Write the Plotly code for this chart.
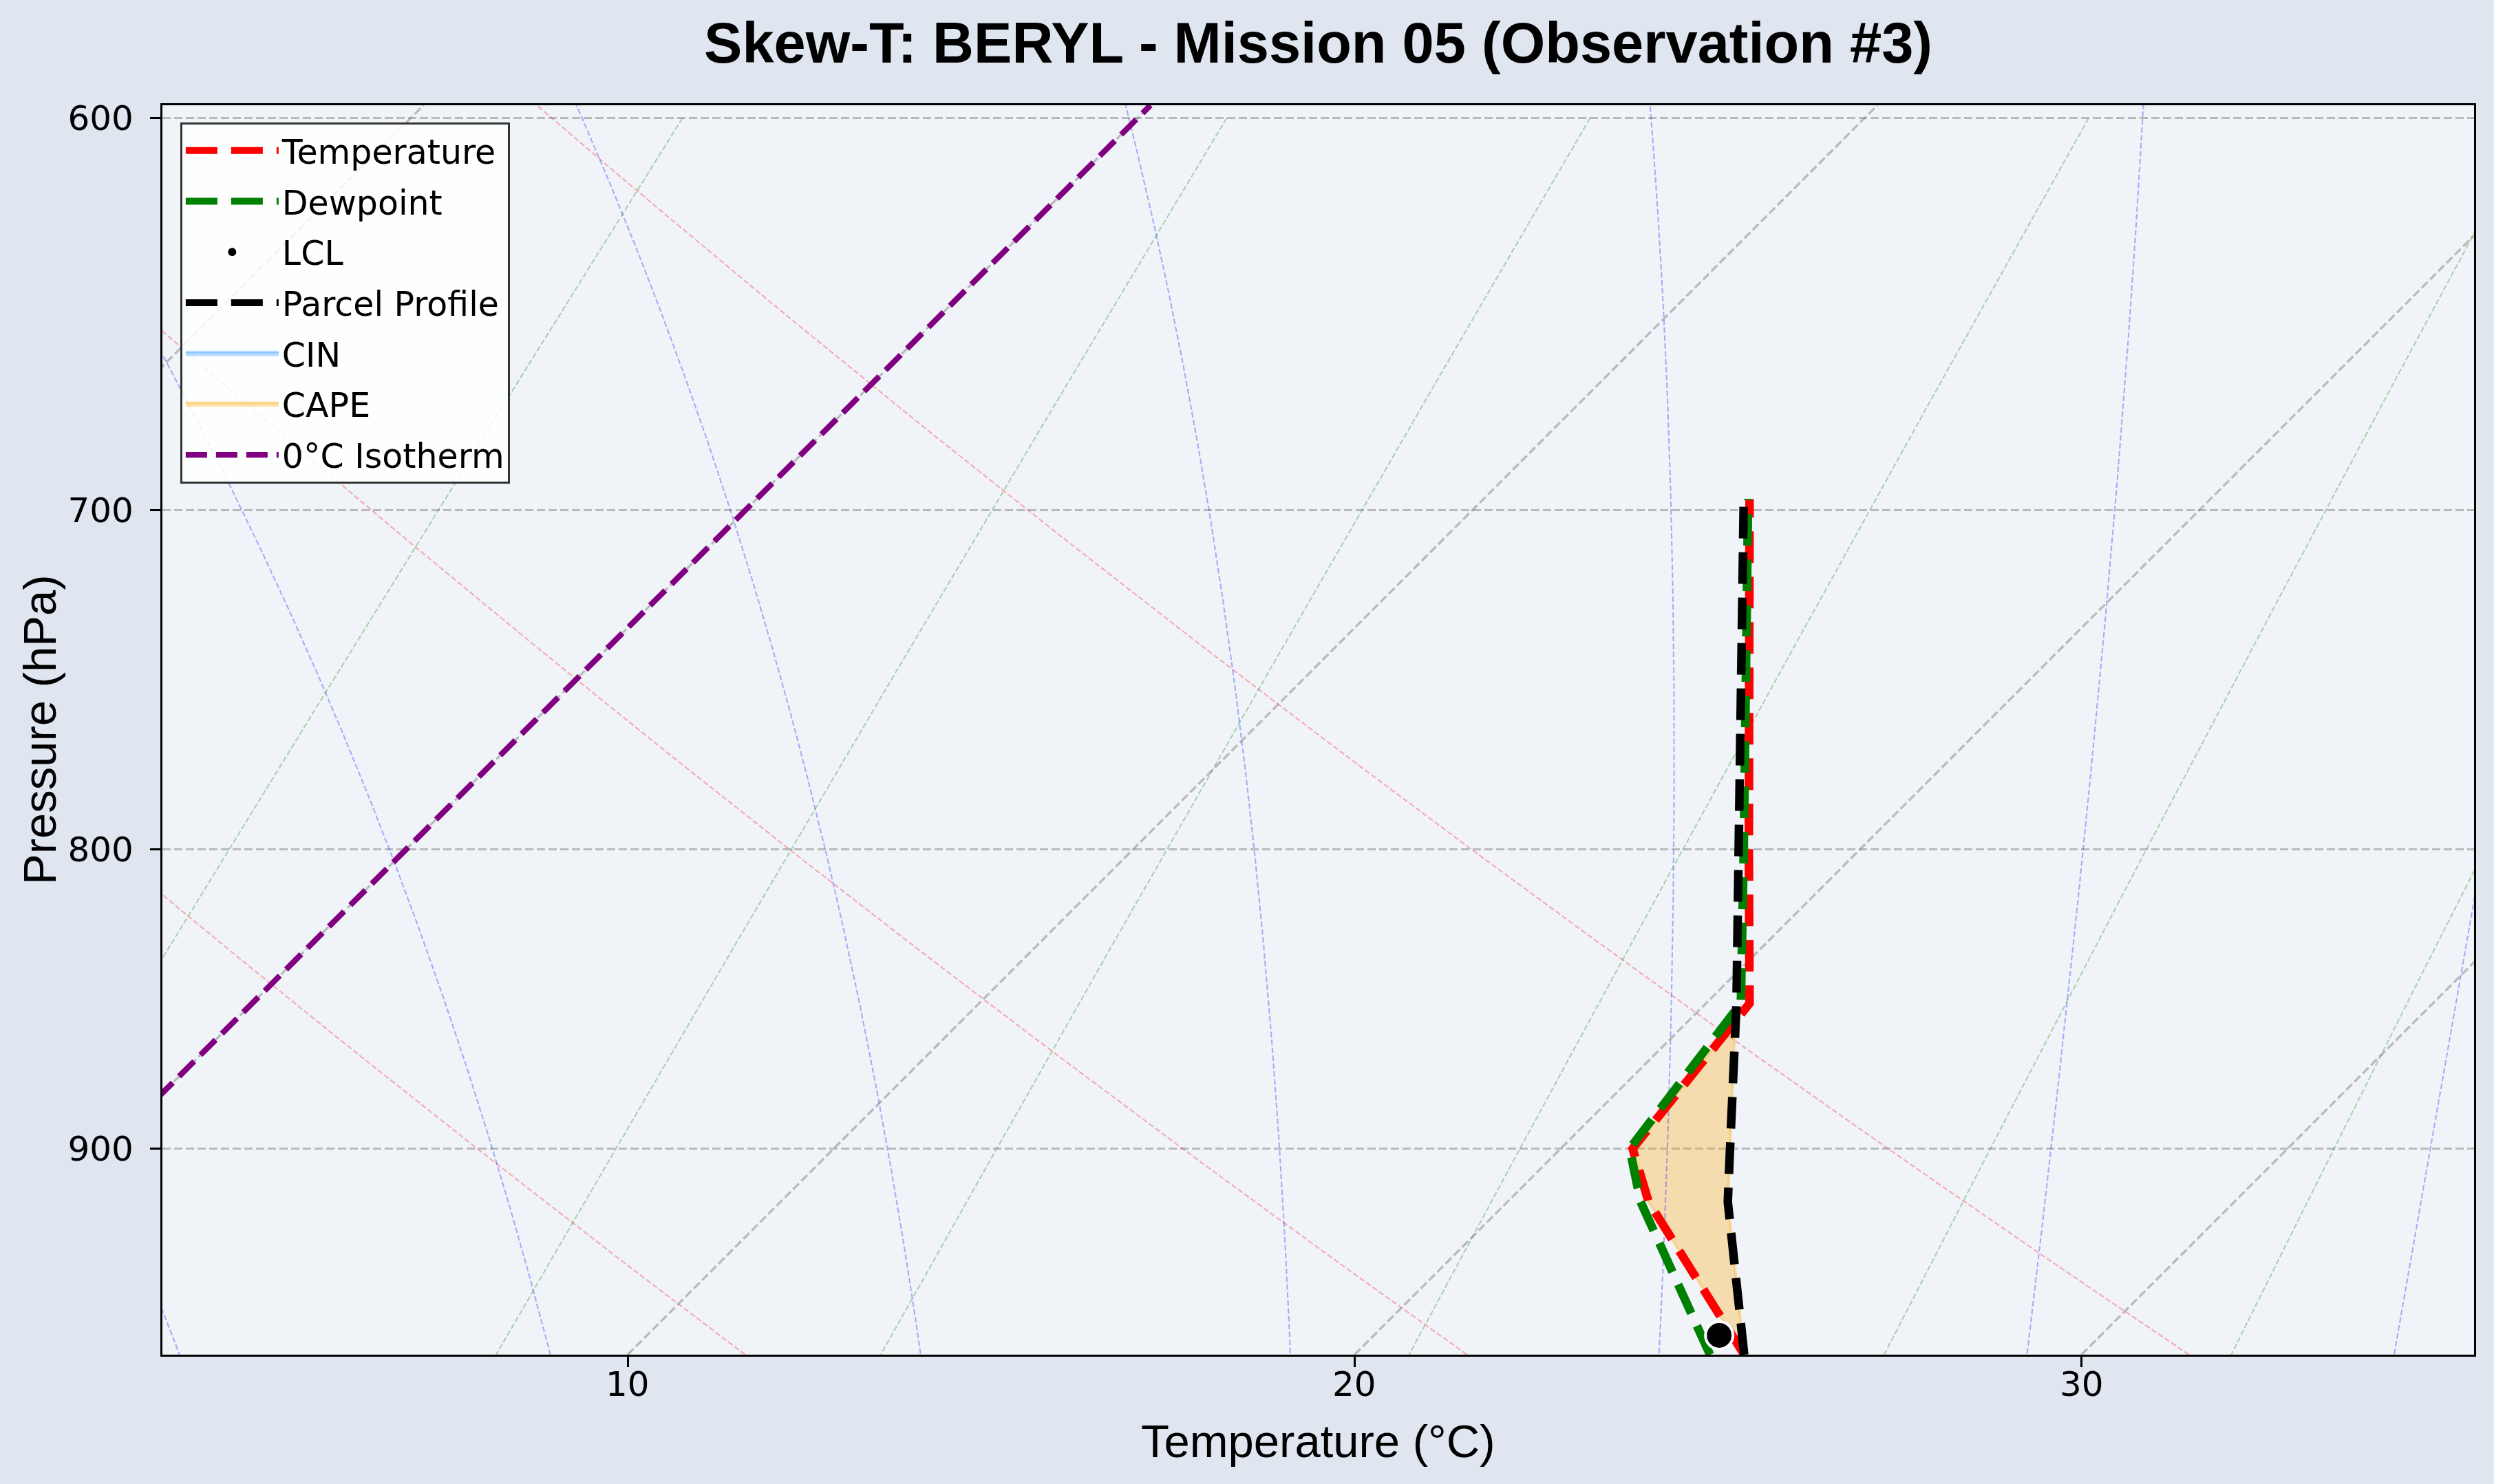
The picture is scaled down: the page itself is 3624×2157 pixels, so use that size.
import numpy as np
import plotly.graph_objects as go

# ---------------- Sounding data ----------------
pressure = [976, 919, 900, 850, 800, 750, 697]                    # hPa
temperature = [25.36, 21.94, 20.99, 20.60, 18.47, 16.21, 13.66]   # degC
dewpoint = [24.89, 21.83, 20.95, 20.48, 18.40, 16.17, 13.64]      # degC
parcel_profile = [25.36, 23.03, 22.33, 20.42, 18.33, 16.11, 13.58]  # degC
lcl_pressure = [968.6]
lcl_temperature = [24.75]

# Axes limits and ticks
x_limits = [3.60, 35.40]          # degC at the bottom of the axes
p_limits = [976.0, 596.95]        # hPa (bottom, top)
x_ticks = [10, 20, 30]
p_ticks = [600, 700, 800, 900]
isotherm_grid = [-10, 0, 10, 20, 30]

# Background reference line parameters (MetPy-style defaults)
dry_adiabat_t0 = [3.60, 13.60, 23.60, 33.60]       # degC at 1000 hPa
moist_adiabat_t0 = [0, 5, 10, 15, 20, 25, 30, 35]  # degC at 1000 hPa
mixing_ratios = [0.0004, 0.001, 0.002, 0.004, 0.007, 0.01, 0.016, 0.024, 0.032]

# ---------------- Layout geometry ----------------
W, H = 3624, 2157
ML, MR, MT, MB = 236, 29, 153, 188
PW, PH = W - ML - MR, H - MT - MB
P_BOT, P_TOP = p_limits
# 45-degree skew in display space
px_per_ln = PH / np.log(P_BOT / P_TOP)
px_per_deg = PW / (x_limits[1] - x_limits[0])
K = px_per_ln / px_per_deg


def skew(t, p):
    t = np.asarray(t, dtype=float)
    p = np.asarray(p, dtype=float)
    return t + K * np.log(P_BOT / p)


# ---------------- thermodynamic helpers for reference lines ----------------
RD = 287.04749097718457
CPD = 1004.6662184201462
LV = 2.50084e6
EPS = 0.6219569100577033
KAPPA = RD / CPD


def sat_mr(p, t):
    es = 6.112 * np.exp(17.67 * (t - 273.15) / (t - 29.65))
    return EPS * es / (p - es)


def dtdp(p, t):
    rs = sat_mr(p, t)
    frac = (RD * t + LV * rs) / (CPD + (LV * LV * rs * EPS / (RD * t * t)))
    return frac / p


def moist_line(t0c, p_end):
    pg = np.linspace(1000.0, p_end, 400)
    tk = np.empty_like(pg)
    tk[0] = t0c + 273.15
    for i in range(len(pg) - 1):
        h = pg[i + 1] - pg[i]
        p0, t0 = pg[i], tk[i]
        k1 = dtdp(p0, t0)
        k2 = dtdp(p0 + h / 2, t0 + h * k1 / 2)
        k3 = dtdp(p0 + h / 2, t0 + h * k2 / 2)
        k4 = dtdp(p0 + h, t0 + h * k3)
        tk[i + 1] = t0 + h * (k1 + 2 * k2 + 2 * k3 + k4) / 6
    return pg, tk - 273.15


def joined(lines):
    xs, ys = [], []
    for x, y in lines:
        xs += list(x) + [None]
        ys += list(y) + [None]
    return xs, ys


fig = go.Figure()

# ---------------- CAPE shading (parcel warmer than environment) ----------------
p_arr = np.array(pressure, float)
t_arr = np.array(temperature, float)
pr_arr = np.array(parcel_profile, float)


def shade_regions(sign):
    d = (pr_arr - t_arr) * sign
    polys = []
    cur_p, cur_a, cur_b = [], [], []
    for i in range(len(p_arr)):
        if d[i] > 0:
            cur_p.append(p_arr[i]); cur_a.append(pr_arr[i]); cur_b.append(t_arr[i])
        if i < len(p_arr) - 1 and (d[i] > 0) != (d[i + 1] > 0):
            f = d[i] / (d[i] - d[i + 1])
            pc = p_arr[i] + f * (p_arr[i + 1] - p_arr[i])
            tc = t_arr[i] + f * (t_arr[i + 1] - t_arr[i])
            cur_p.append(pc); cur_a.append(tc); cur_b.append(tc)
            if d[i] > 0:
                polys.append((cur_p, cur_a, cur_b))
                cur_p, cur_a, cur_b = [], [], []
    if cur_p:
        polys.append((cur_p, cur_a, cur_b))
    xs, ys = [], []
    for pp, aa, bb in polys:
        px = list(skew(aa, pp)) + list(skew(bb, pp))[::-1]
        py = list(pp) + list(pp)[::-1]
        xs += px + [px[0], None]
        ys += py + [py[0], None]
    return xs, ys


cape_x, cape_y = shade_regions(+1)
fig.add_trace(go.Scatter(
    x=cape_x, y=cape_y, mode="lines", fill="toself",
    fillcolor="rgba(255,165,0,0.3)", line=dict(color="rgba(255,165,0,0.3)", width=4),
    name="CAPE", legendrank=6, legendgroup="g6", hoverinfo="skip"))

fig.add_trace(go.Scatter(
    x=[None], y=[None], mode="lines", fill="toself",
    fillcolor="rgba(30,144,255,0.3)", line=dict(color="rgba(30,144,255,0.3)", width=4),
    name="CIN", legendrank=5, legendgroup="g5", hoverinfo="skip"))

# ---------------- Reference lines ----------------
p_lines = np.linspace(P_BOT, P_TOP, 50)
dry = []
for t0 in dry_adiabat_t0:
    t = (t0 + 273.15) * (p_lines / 1000.0) ** KAPPA - 273.15
    dry.append((skew(t, p_lines), p_lines))
dx, dy = joined(dry)
fig.add_trace(go.Scatter(x=dx, y=dy, mode="lines", showlegend=False, hoverinfo="skip",
                         line=dict(color="rgba(255,0,0,0.3)", width=2.1, dash="8px,3.5px")))

moist = []
for t0 in moist_adiabat_t0:
    pg, tg = moist_line(t0, P_TOP)
    moist.append((skew(tg, pg), pg))
mx, my = joined(moist)
fig.add_trace(go.Scatter(x=mx, y=my, mode="lines", showlegend=False, hoverinfo="skip",
                         line=dict(color="rgba(0,0,255,0.3)", width=2.1, dash="8px,3.5px")))

p_mix = np.linspace(600, P_BOT, 50)
mix = []
for w in mixing_ratios:
    e = p_mix * w / (EPS + w)
    val = np.log(e / 6.112)
    td = 243.5 * val / (17.67 - val)
    mix.append((skew(td, p_mix), p_mix))
gx, gy = joined(mix)
fig.add_trace(go.Scatter(x=gx, y=gy, mode="lines", showlegend=False, hoverinfo="skip",
                         line=dict(color="rgba(0,128,0,0.3)", width=2.1, dash="8px,3.5px")))

iso = []
for t in isotherm_grid:
    pp = np.array([P_BOT, P_TOP])
    iso.append((skew([t, t], pp), pp))
ix, iy = joined(iso)
fig.add_trace(go.Scatter(x=ix, y=iy, mode="lines", showlegend=False, hoverinfo="skip",
                         line=dict(color="rgba(128,128,128,0.5)", width=3.3, dash="12px,5px")))

# 0 degC isotherm
pp = np.array([P_BOT, P_TOP])
fig.add_trace(go.Scatter(x=skew([0, 0], pp), y=pp, mode="lines", name="0°C Isotherm",
                         legendrank=7, legendgroup="g7",
                         line=dict(color="purple", width=8.3, dash="31px,13px")))

# ---------------- Profiles ----------------
fig.add_trace(go.Scatter(x=skew(temperature, pressure), y=pressure, mode="lines",
                         name="Temperature", legendrank=1, legendgroup="g1",
                         line=dict(color="red", width=12.5, dash="46px,20px")))
fig.add_trace(go.Scatter(x=skew(dewpoint, pressure), y=pressure, mode="lines",
                         name="Dewpoint", legendrank=2, legendgroup="g2",
                         line=dict(color="green", width=12.5, dash="46px,20px")))
fig.add_trace(go.Scatter(x=skew(parcel_profile, pressure), y=pressure, mode="lines",
                         name="Parcel Profile", legendrank=4, legendgroup="g4",
                         line=dict(color="black", width=12.5, dash="46px,20px")))
fig.add_trace(go.Scatter(x=skew(lcl_temperature, lcl_pressure), y=lcl_pressure, mode="markers",
                         name="LCL", legendrank=3, legendgroup="g3", cliponaxis=False,
                         marker=dict(color="black", size=40, line=dict(color="white", width=4))))

# x tick labels placed as text just below the tick marks (matplotlib-like padding)
tick_label_y = -(2012 - (MT + PH)) / PH
tick_annotations = [
    dict(text=str(v), xref="x", yref="paper", x=v, y=tick_label_y,
         xanchor="center", yanchor="middle", showarrow=False,
         font=dict(family="DejaVu Sans", size=50, color="black"))
    for v in x_ticks
]

fig.update_layout(
    width=W, height=H,
    margin=dict(l=ML, r=MR, t=MT, b=MB, pad=0),
    paper_bgcolor="#DFE6F0",
    plot_bgcolor="#F0F4F9",
    title=dict(text="Skew-T: BERYL - Mission 05 (Observation #3)",
               font=dict(family="Liberation Sans", size=83, color="black", weight="bold"),
               x=0.5, xref="paper", xanchor="center",
               y=1 - 62.0 / H, yref="container", yanchor="middle"),
    font=dict(family="DejaVu Sans", size=50, color="black"),
    legend=dict(x=0.0077, y=0.9865, xanchor="left", yanchor="top",
                bgcolor="rgba(255,255,255,0.85)", bordercolor="#333333", borderwidth=3,
                font=dict(family="DejaVu Sans", size=49, color="black"),
                itemwidth=135, traceorder="grouped", tracegroupgap=7),
    showlegend=True,
    annotations=tick_annotations + [
        dict(text="Temperature (°C)", xref="paper", yref="paper",
             x=0.5, y=-(2094 - (MT + PH)) / PH,
             xanchor="center", yanchor="middle", showarrow=False,
             font=dict(family="Liberation Sans", size=67, color="black")),
        dict(text="Pressure (hPa)", xref="paper", yref="paper",
             x=(57 - ML) / PW, y=0.5, textangle=-90,
             xanchor="center", yanchor="middle", showarrow=False,
             font=dict(family="Liberation Sans", size=67, color="black")),
    ],
)

fig.update_xaxes(
    range=x_limits, tickvals=x_ticks, showticklabels=False,
    showgrid=False, zeroline=False,
    showline=True, mirror=True, linecolor="black", linewidth=3.3,
    ticks="outside", ticklen=15, tickwidth=3.3, tickcolor="black",
)
fig.update_yaxes(
    type="log", range=[np.log10(P_BOT), np.log10(P_TOP)],
    tickvals=p_ticks, ticktext=[str(v) for v in p_ticks],
    showgrid=True, gridcolor="rgba(128,128,128,0.5)", gridwidth=3.3, griddash="12px,5px",
    zeroline=False,
    showline=True, mirror=True, linecolor="black", linewidth=3.3,
    ticks="outside", ticklen=15, tickwidth=3.3, tickcolor="black",
    tickfont=dict(family="DejaVu Sans", size=50, color="black"), ticklabelstandoff=14,
)

fig.write_html("out.html")
